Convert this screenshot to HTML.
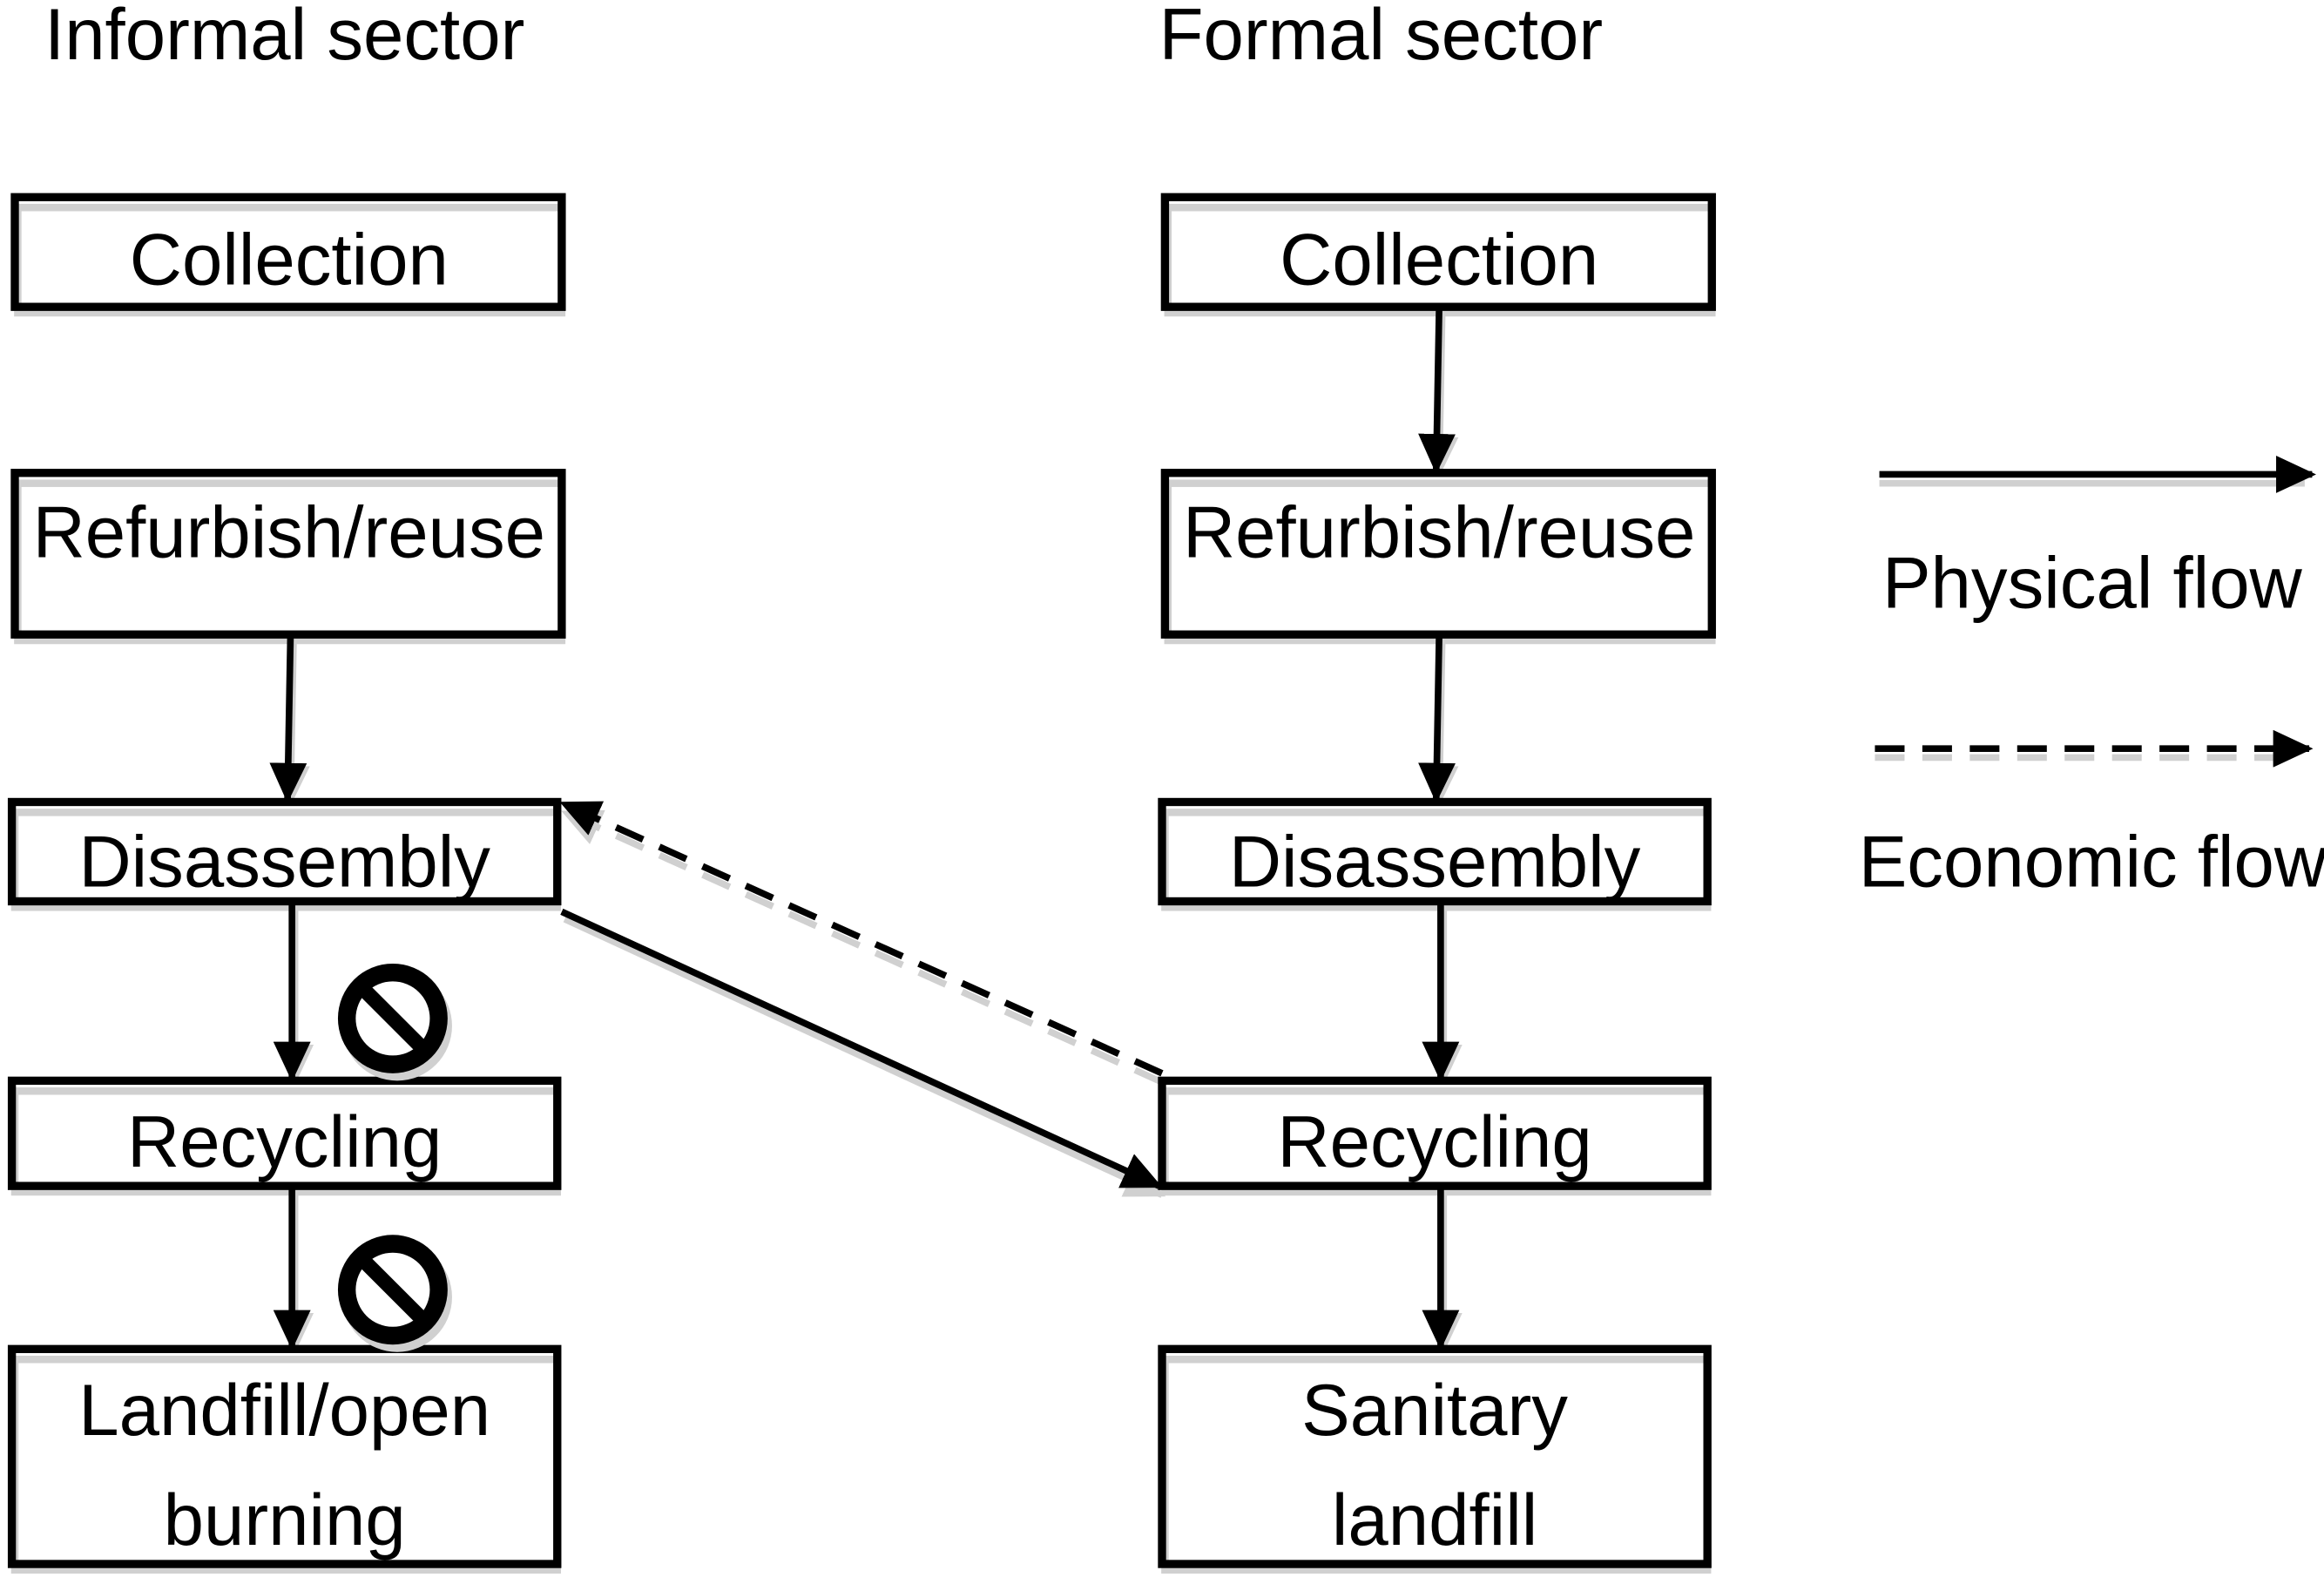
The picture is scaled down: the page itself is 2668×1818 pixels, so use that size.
<!DOCTYPE html>
<html><head><meta charset="utf-8"><style>
html,body{margin:0;padding:0;background:#fff;}
svg{display:block;}
text{font-family:"Liberation Sans",Arial,sans-serif;font-size:49px;fill:#000;}
</style></head><body>
<svg width="2668" height="1818" viewBox="0 0 1568 1068.5" preserveAspectRatio="none" xmlns="http://www.w3.org/2000/svg">
<defs>
<marker id="ah" markerWidth="6" markerHeight="5.6" refX="5.4" refY="2.8" orient="auto" markerUnits="strokeWidth"><path d="M0,0 L6,2.8 L0,5.6 z" fill="#000"/></marker>
<marker id="ahg" markerWidth="6" markerHeight="5.6" refX="5.4" refY="2.8" orient="auto" markerUnits="strokeWidth"><path d="M0,0 L6,2.8 L0,5.6 z" fill="#d0d0d0"/></marker>
</defs>
<g fill="none" stroke="#d0d0d0" stroke-width="5">
<rect x="12" y="140" width="367" height="71"/>
<rect x="12" y="326" width="367" height="106"/>
<rect x="10" y="548" width="366" height="64"/>
<rect x="10" y="736" width="366" height="68"/>
<rect x="10" y="917" width="366" height="142"/>
<rect x="788" y="140" width="367" height="71"/>
<rect x="788" y="326" width="367" height="106"/>
<rect x="786" y="548" width="366" height="64"/>
<rect x="786" y="736" width="366" height="68"/>
<rect x="786" y="917" width="366" height="142"/>
</g>
<g stroke="#d0d0d0" stroke-width="4.5" fill="none">
<line x1="198" y1="434" x2="196" y2="541" marker-end="url(#ahg)"/>
<line x1="199" y1="614" x2="199" y2="729" marker-end="url(#ahg)"/>
<line x1="199" y1="806" x2="199" y2="910" marker-end="url(#ahg)"/>
<line x1="973" y1="213" x2="971" y2="319" marker-end="url(#ahg)"/>
<line x1="973" y1="434" x2="971" y2="541" marker-end="url(#ahg)"/>
<line x1="974" y1="614" x2="974" y2="729" marker-end="url(#ahg)"/>
<line x1="974" y1="806" x2="974" y2="910" marker-end="url(#ahg)"/>
<line x1="381" y1="620" x2="784" y2="806" marker-end="url(#ahg)"/>
<line x1="784" y1="730" x2="381" y2="548" stroke-dasharray="20,12" marker-end="url(#ahg)"/>
<line x1="1268" y1="326" x2="1555" y2="326"/>
<line x1="1265" y1="511" x2="1552" y2="511" stroke-dasharray="20,12"/>
</g>
<g fill="none" stroke="#000" stroke-width="5.5">
<rect x="10" y="133" width="369" height="74"/>
<rect x="10" y="319" width="369" height="109"/>
<rect x="8" y="541" width="368" height="67"/>
<rect x="8" y="729" width="368" height="71"/>
<rect x="8" y="910" width="368" height="145"/>
<rect x="786" y="133" width="369" height="74"/>
<rect x="786" y="319" width="369" height="109"/>
<rect x="784" y="541" width="368" height="67"/>
<rect x="784" y="729" width="368" height="71"/>
<rect x="784" y="910" width="368" height="145"/>
</g>
<g stroke="#000" stroke-width="4.5" fill="none">
<line x1="196" y1="428" x2="194" y2="539" marker-end="url(#ah)"/>
<line x1="197" y1="608" x2="197" y2="727" marker-end="url(#ah)"/>
<line x1="197" y1="800" x2="197" y2="908" marker-end="url(#ah)"/>
<line x1="971" y1="207" x2="969" y2="317" marker-end="url(#ah)"/>
<line x1="971" y1="428" x2="969" y2="539" marker-end="url(#ah)"/>
<line x1="972" y1="608" x2="972" y2="727" marker-end="url(#ah)"/>
<line x1="972" y1="800" x2="972" y2="908" marker-end="url(#ah)"/>
<line x1="379" y1="615" x2="782" y2="800" marker-end="url(#ah)"/>
<line x1="784" y1="724" x2="380" y2="542" stroke-dasharray="20,12" marker-end="url(#ah)"/>
<line x1="1268" y1="320" x2="1560" y2="320" marker-end="url(#ah)"/>
<line x1="1265" y1="505" x2="1558" y2="505" stroke-dasharray="20,12" marker-end="url(#ah)"/>
</g>
<g>
<circle cx="268" cy="692" r="37" fill="#d0d0d0"/>
<circle cx="265" cy="687" r="37" fill="#000"/>
<circle cx="265" cy="687" r="25" fill="#fff"/>
<line x1="247" y1="669" x2="283" y2="705" stroke="#000" stroke-width="10"/>
<circle cx="268" cy="875" r="37" fill="#d0d0d0"/>
<circle cx="265" cy="870" r="37" fill="#000"/>
<circle cx="265" cy="870" r="25" fill="#fff"/>
<line x1="247" y1="852" x2="283" y2="888" stroke="#000" stroke-width="10"/>
</g>
<text x="30" y="40">Informal sector</text>
<text x="782" y="40">Formal sector</text>
<g text-anchor="middle">
<text x="195" y="192">Collection</text>
<text x="195" y="376">Refurbish/reuse</text>
<text x="192" y="598">Disassembly</text>
<text x="192" y="787">Recycling</text>
<text x="192" y="968">Landfill/open</text>
<text x="192" y="1042">burning</text>
<text x="971" y="192">Collection</text>
<text x="971" y="376">Refurbish/reuse</text>
<text x="968" y="598">Disassembly</text>
<text x="968" y="787">Recycling</text>
<text x="968" y="968">Sanitary</text>
<text x="968" y="1042">landfill</text>
</g>
<text x="1270" y="410">Physical flow</text>
<text x="1254" y="598">Economic flow</text>
</svg>
</body></html>
